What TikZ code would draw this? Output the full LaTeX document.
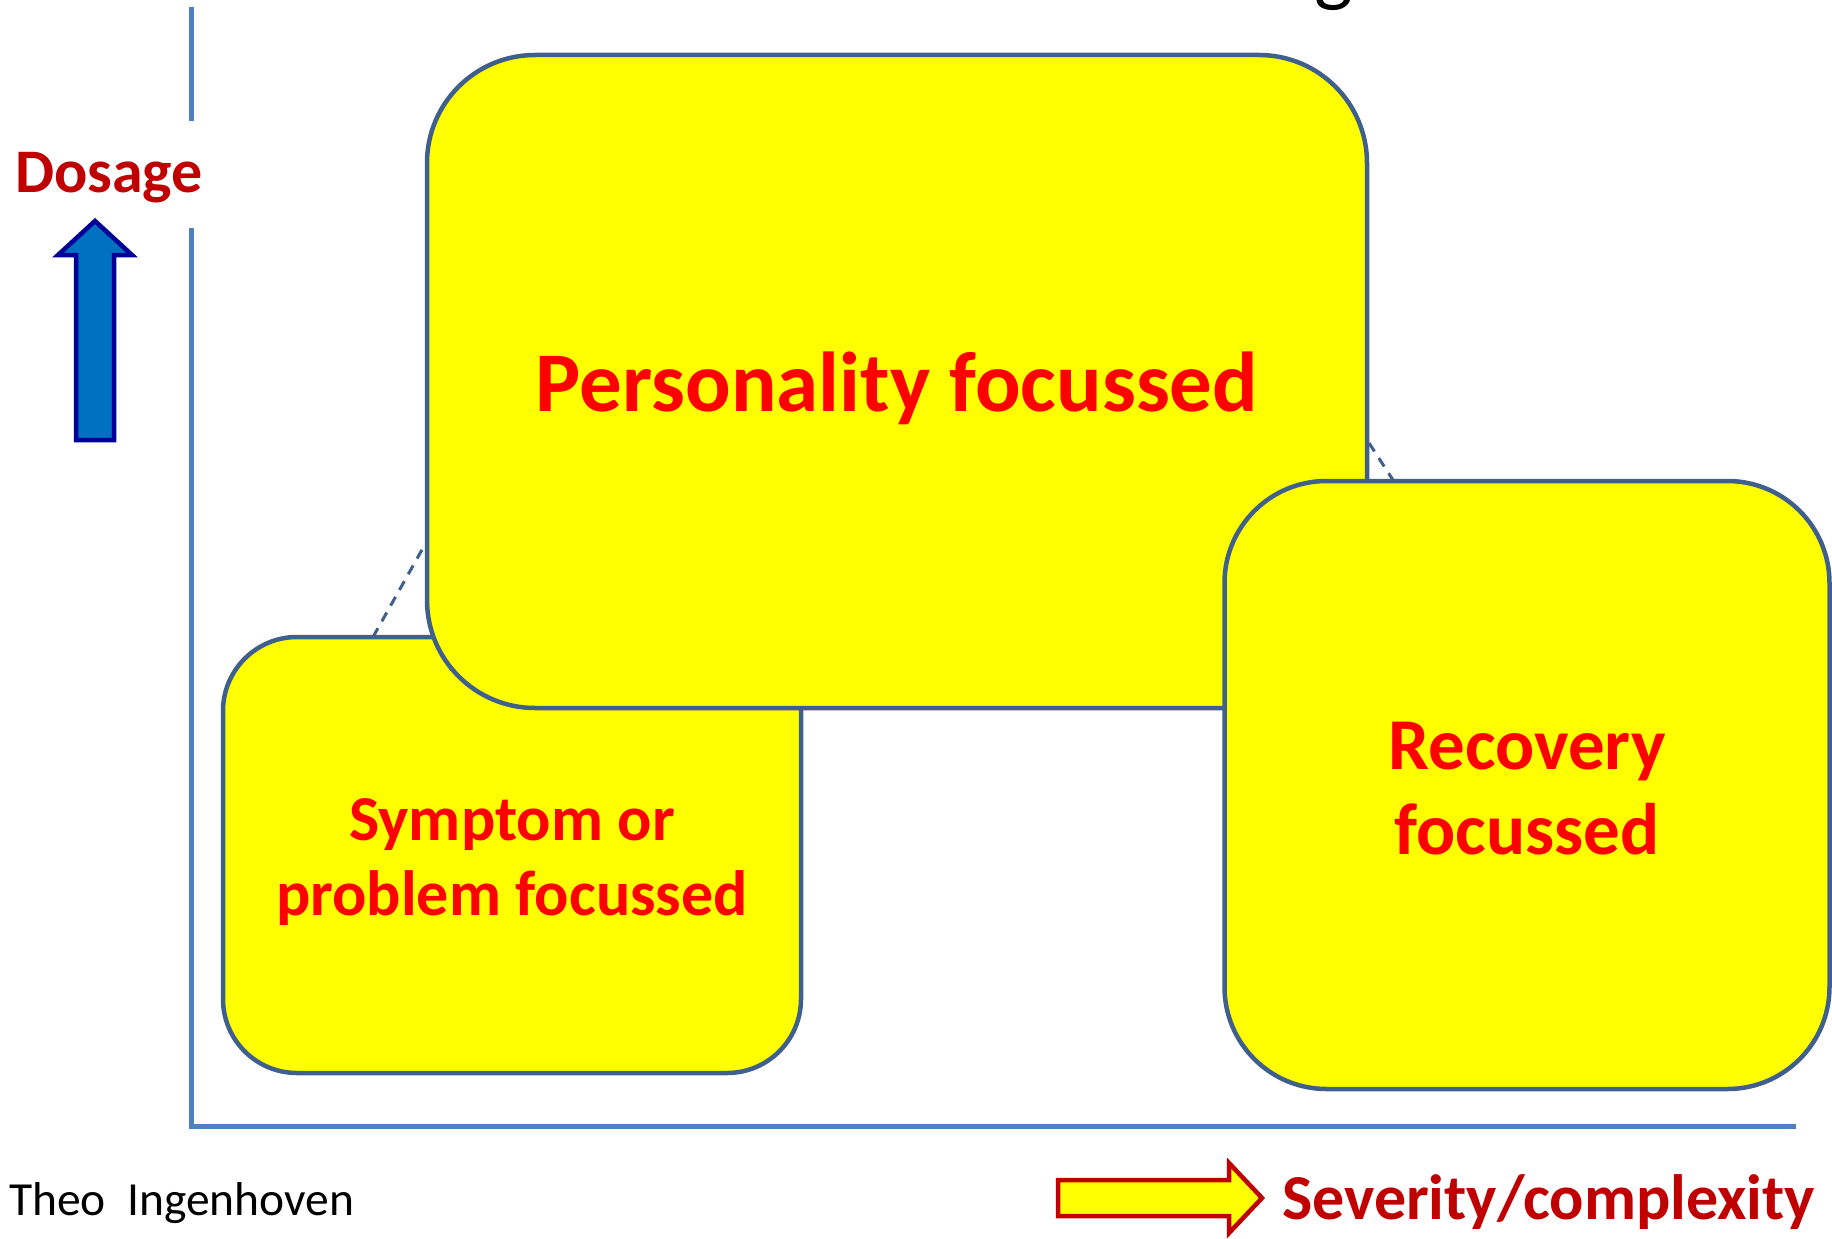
\documentclass[tikz,border=0pt]{standalone}
\usepackage{fontspec}
\setmainfont{Carlito}
\usetikzlibrary{calc}
\definecolor{axisblue}{HTML}{4F81BD}
\definecolor{boxline}{HTML}{3F5F8C}
\definecolor{darkred}{HTML}{C00000}
\definecolor{navyline}{HTML}{000099}
\definecolor{arrowblue}{HTML}{0070C0}
\definecolor{boxyellow}{HTML}{FFFF00}
\begin{document}
\begin{tikzpicture}[x=1pt,y=-1pt,
  axisline/.style={draw=axisblue,line width=5pt},
  yellowbox/.style={draw=boxline,fill=boxyellow,line width=4.5pt,inner sep=0pt,outer sep=0pt,rectangle},
  depthline/.style={draw=boxline,line width=3pt,dash pattern=on 10pt off 8pt},
  boxtext/.style={text=red,font=\bfseries\fontsize{#1}{#1}\selectfont,inner sep=0pt,anchor=base},
  axislabel/.style={text=darkred,font=\bfseries\fontsize{#1}{#1}\selectfont,inner sep=0pt,anchor=base west}]
\useasboundingbox (0,0) rectangle (1832,1239);
\clip (0,0) rectangle (1832,1239);
% title fragment
\node[inner sep=0pt,anchor=south,font=\fontsize{82}{82}\selectfont] (title) at (1334,11) {g};
% axes
\draw[axisline] (191,7) -- (191,121);
\draw[axisline] (191,228) -- (191,1126) -- (1796,1126);
% boxes
\node[yellowbox,minimum width=578pt,minimum height=436pt,rounded corners=74pt] (sym) at (512,855) {};
\coordinate (d1a) at (373,637);
\coordinate (d1b) at (423,548);
\draw[depthline] (d1a) -- (d1b);
\node[yellowbox,minimum width=940pt,minimum height=653pt,rounded corners=108pt] (pers) at (897,381.5) {};
\coordinate (d2a) at (1369,443);
\coordinate (d2b) at (1393,480);
\draw[depthline] (d2a) -- (d2b);
\node[yellowbox,minimum width=605pt,minimum height=608pt,rounded corners=102pt] (rec) at (1527,785) {};
% box texts
\node[boxtext=85] (perst) at (897,411) {Personality focussed};
\node[boxtext=64] (symt1) at (512,840) {Symptom or};
\node[boxtext=64] (symt2) at (512,915) {problem focussed};
\node[boxtext=73] (rect1) at (1527,769) {Recovery};
\node[boxtext=73] (rect2) at (1527,854) {focussed};
% dosage
\node[axislabel=62] (dosage) at (15,192) {Dosage};
\draw[draw=navyline,fill=arrowblue,line width=4.5pt,line join=miter]
  (95,221) -- (132,255) -- (114,255) -- (114,440) -- (76,440) -- (76,255) -- (58,255) -- cycle;
% severity
\draw[draw=darkred,fill=boxyellow,line width=4.5pt,line join=miter]
  (1058,1180) -- (1229,1180) -- (1229,1163) -- (1262,1198) -- (1229,1233) -- (1229,1216) -- (1058,1216) -- cycle;
\node[axislabel=64] (severity) at (1282,1219) {Severity/complexity};
% author
\node[inner sep=0pt,anchor=base west,font=\fontsize{47.5}{47.5}\selectfont] (author) at (9,1215) {Theo\ \ Ingenhoven};
\end{tikzpicture}
\end{document}
